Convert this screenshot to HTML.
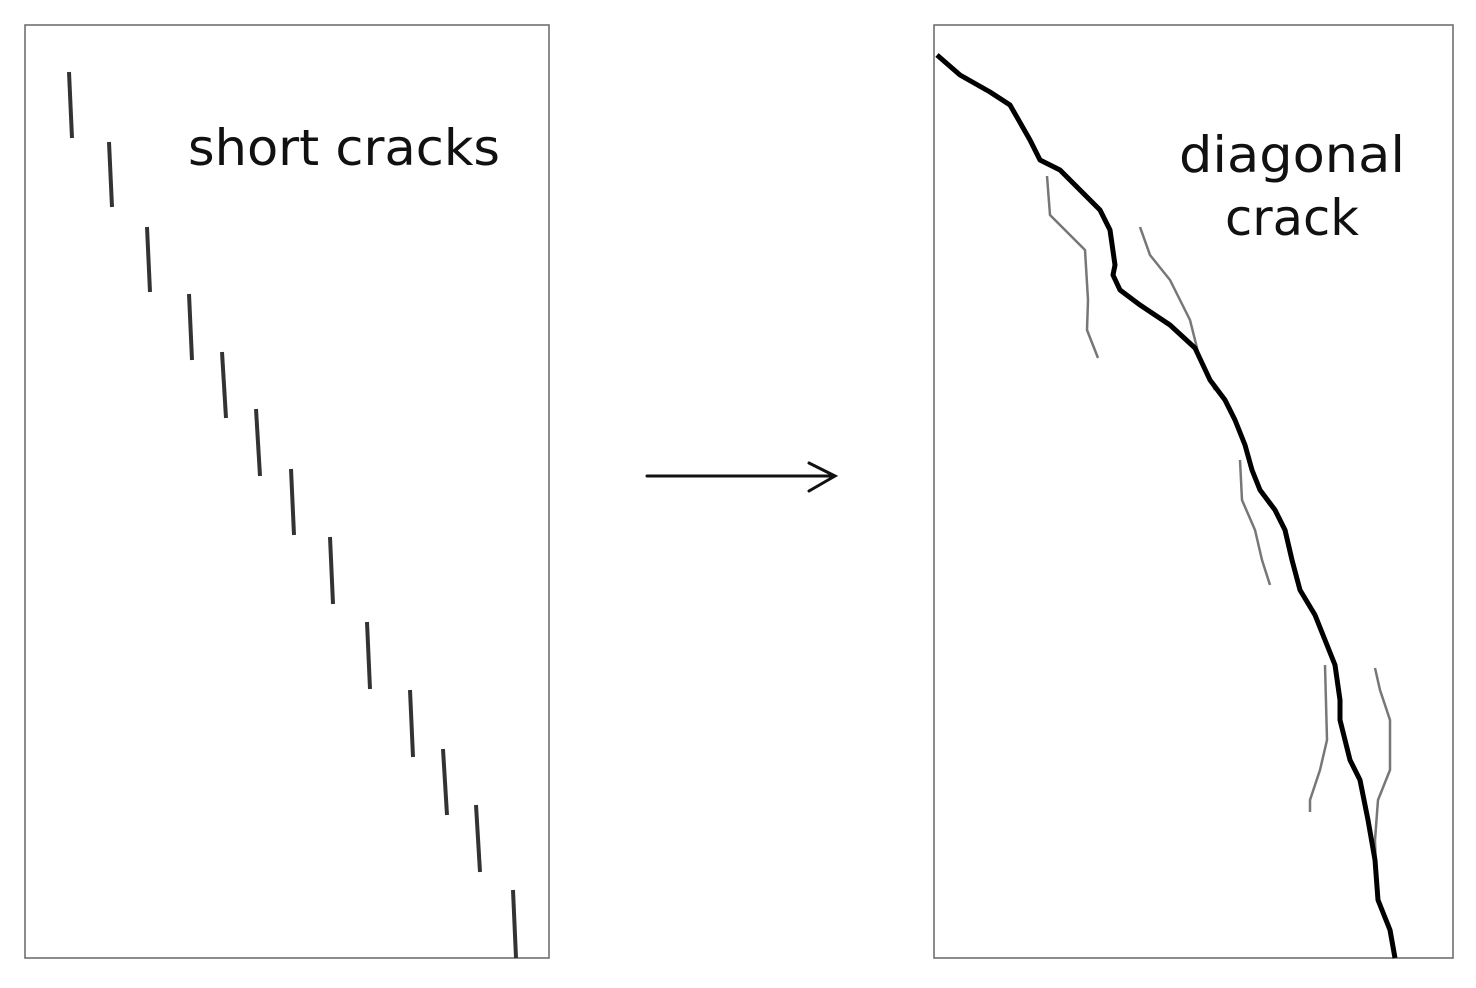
<!DOCTYPE html>
<html><head><meta charset="utf-8"><style>html,body{margin:0;padding:0;background:#fff}svg{display:block}</style></head>
<body>
<svg width="1476" height="988" viewBox="0 0 1476 988" xmlns="http://www.w3.org/2000/svg">
<rect x="25" y="25" width="524" height="933" fill="none" stroke="#666" stroke-width="1.5"/>
<rect x="934" y="25" width="519" height="933" fill="none" stroke="#666" stroke-width="1.5"/>
<g stroke="#333" stroke-width="4" stroke-linecap="butt">
<line x1="69" y1="72" x2="72" y2="138"/>
<line x1="109" y1="142" x2="112" y2="207"/>
<line x1="147" y1="227" x2="150" y2="292"/>
<line x1="189" y1="294" x2="192" y2="360"/>
<line x1="222" y1="352" x2="226" y2="418"/>
<line x1="256" y1="409" x2="260" y2="476"/>
<line x1="291" y1="469" x2="294" y2="535"/>
<line x1="330" y1="537" x2="333" y2="604"/>
<line x1="367" y1="622" x2="370" y2="689"/>
<line x1="410" y1="690" x2="413" y2="757"/>
<line x1="443" y1="749" x2="447" y2="815"/>
<line x1="476" y1="805" x2="480" y2="872"/>
<line x1="513" y1="890" x2="516" y2="958"/>
</g>
<text x="188" y="165" font-family="DejaVu Sans, sans-serif" font-size="50" fill="#111" textLength="312" lengthAdjust="spacingAndGlyphs">short cracks</text>
<text x="1292" y="172" text-anchor="middle" font-family="DejaVu Sans, sans-serif" font-size="50" fill="#111" textLength="226" lengthAdjust="spacingAndGlyphs">diagonal</text>
<text x="1292" y="235" text-anchor="middle" font-family="DejaVu Sans, sans-serif" font-size="50" fill="#111" textLength="134" lengthAdjust="spacingAndGlyphs">crack</text>
<g fill="none" stroke="#777" stroke-width="2.5" stroke-linejoin="round">
<polyline points="1047,176 1050,215 1085,250 1088,300 1087,330 1098,358"/>
<polyline points="1140,227 1150,255 1170,280 1190,320 1200,360 1215,390"/>
<polyline points="1240,460 1242,500 1255,530 1262,560 1270,585"/>
<polyline points="1325,665 1327,740 1320,770 1310,800 1310,812"/>
<polyline points="1375,668 1380,690 1390,720 1390,770 1378,800 1375,840 1377,900"/>
</g>
<polyline fill="none" stroke="#000" stroke-width="5" stroke-linejoin="round" points="937,55 960,75 990,92 1010,105 1030,140 1040,160 1060,170 1080,190 1100,210 1110,230 1115,265 1113,275 1120,290 1140,305 1170,325 1195,348 1210,380 1225,400 1235,420 1245,445 1252,470 1260,490 1275,510 1285,530 1292,560 1300,590 1315,615 1325,640 1335,665 1340,700 1340,720 1350,760 1360,780 1368,820 1375,860 1378,900 1390,930 1395,958"/>
<g stroke="#111" stroke-width="3" fill="none" stroke-linecap="round">
<line x1="647" y1="476" x2="834" y2="476"/>
<polyline points="809,463 835,476 809,491"/>
</g>
</svg>
</body></html>
